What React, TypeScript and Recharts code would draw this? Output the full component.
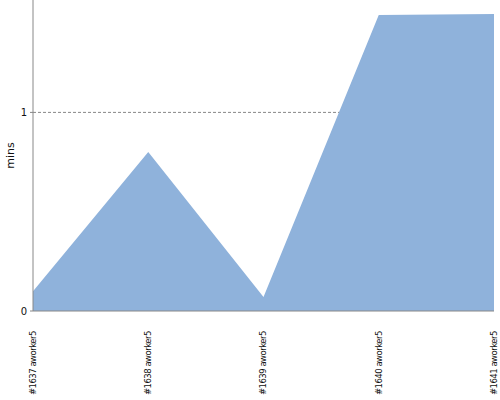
import { AreaChart, Area, XAxis, YAxis, CartesianGrid } from 'recharts';

const builds = [
  '#1637 aworker5',
  '#1638 aworker5',
  '#1639 aworker5',
  '#1640 aworker5',
  '#1641 aworker5',
];
const mins = [0.1, 0.8, 0.07, 1.49, 1.495];
const yTicks = [0, 1];

const data = builds.map((name, i) => ({ name, mins: mins[i] }));

const BuildTick = ({ x, y, payload }: { x?: number; y?: number; payload?: { value: string } }) => (
  <text
    x={x}
    y={(y ?? 0) + 12}
    transform={`rotate(-90, ${x}, ${(y ?? 0) + 12})`}
    textAnchor="end"
    dy="0.35em"
    fontSize={8.5}
    letterSpacing={-0.5}
    fill="#111"
    fontFamily="DejaVu Sans, sans-serif"
  >
    {payload?.value}
  </text>
);

export default function App() {
  return (
    <div style={{ position: 'absolute', left: 0, top: 0, background: '#fff' }}>
      <AreaChart
        width={500}
        height={400}
        data={data}
        margin={{ top: 0, right: 6, left: 0, bottom: 0 }}
      >
        <CartesianGrid
          vertical={false}
          stroke="#888"
          strokeDasharray="3 2"
          horizontalValues={[1]}
        />
        <XAxis
          dataKey="name"
          height={89}
          interval={0}
          tickLine={false}
          axisLine={{ stroke: '#888' }}
          tick={<BuildTick />}
        />
        <YAxis
          domain={[0, 1.566]}
          ticks={yTicks}
          width={33}
          tickSize={3}
          tickMargin={3}
          axisLine={{ stroke: '#888' }}
          tickLine={{ stroke: '#888' }}
          tick={{ fontSize: 10, fill: '#111', fontFamily: 'DejaVu Sans, sans-serif' }}
          label={{
            value: 'mins',
            angle: -90,
            position: 'insideLeft',
            offset: 10,
            style: { fontSize: 11, fill: '#111', fontFamily: 'DejaVu Sans, sans-serif', textAnchor: 'middle' },
          }}
        />
        <Area
          type="linear"
          dataKey="mins"
          stroke="none"
          fill="#8fb2db"
          fillOpacity={1}
          isAnimationActive={false}
          dot={false}
        />
      </AreaChart>
    </div>
  );
}
